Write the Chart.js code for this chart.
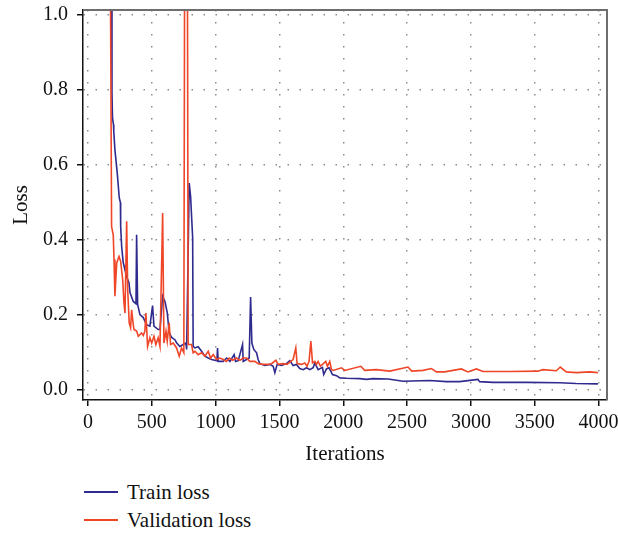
<!DOCTYPE html>
<html>
<head>
<meta charset="utf-8">
<script src="https://cdn.jsdelivr.net/npm/chart.js@4/dist/chart.umd.min.js"></script>
<style>
  html, body { margin: 0; padding: 0; background: #fff; }
  #wrap { position: relative; width: 618px; height: 537px; }
  #lossChart { position: absolute; left: 0; top: 0; }
  .legend { position: absolute; left: 84px; top: 478px; font-family: "Liberation Serif", serif; font-size: 21px; color: #111; }
  .legend-row { display: flex; align-items: center; height: 28px; }
  .legend-line { width: 34px; height: 0; border-top: 2px solid; margin-right: 9px; }
</style>
</head>
<body>
<div id="wrap">
  <canvas id="lossChart" width="618" height="470"></canvas>
  <div class="legend" id="legend"></div>
</div>
<script>
// Values (iteration, loss)
const trainIter = [182, 188, 192, 200, 202, 211, 229, 245, 254, 256, 264, 276, 303, 321, 329, 355, 376, 381, 389,
  407, 433, 459, 485, 506, 517, 550, 564, 585, 603, 621, 636, 655, 681, 694, 720, 746, 767, 773, 793, 804, 820,
  824, 838, 863, 890, 916, 942, 968, 1010, 1015, 1020, 1059, 1086, 1112, 1145, 1156, 1177, 1211, 1216, 1242,
  1263, 1274, 1284, 1299, 1321, 1333, 1346, 1386, 1425, 1451, 1464, 1482, 1516, 1555, 1581, 1607, 1633, 1659,
  1686, 1712, 1738, 1764, 1777, 1803, 1837, 1847, 1868, 1889, 1902, 1915, 1947, 1973, 2025, 2129, 2182, 2233,
  2351, 2468, 2677, 2808, 2912, 3055, 3068, 3173, 3434, 3695, 3825, 3995];
const trainLoss = [1.6, 0.792, 0.725, 0.707, 0.69, 0.64, 0.579, 0.512, 0.499, 0.435, 0.381, 0.339, 0.301, 0.285,
  0.259, 0.235, 0.229, 0.413, 0.227, 0.2, 0.192, 0.173, 0.169, 0.224, 0.169, 0.16, 0.16, 0.249, 0.235, 0.205,
  0.152, 0.139, 0.133, 0.125, 0.115, 0.12, 0.124, 0.107, 0.551, 0.515, 0.405, 0.115, 0.111, 0.114, 0.102, 0.089,
  0.084, 0.08, 0.077, 0.111, 0.075, 0.075, 0.084, 0.075, 0.093, 0.075, 0.077, 0.12, 0.075, 0.08, 0.084, 0.247,
  0.124, 0.107, 0.098, 0.08, 0.069, 0.064, 0.067, 0.062, 0.045, 0.067, 0.064, 0.069, 0.077, 0.064, 0.067, 0.056,
  0.053, 0.058, 0.053, 0.058, 0.071, 0.053, 0.059, 0.04, 0.055, 0.058, 0.049, 0.04, 0.037, 0.031, 0.03, 0.029,
  0.027, 0.029, 0.028, 0.022, 0.024, 0.021, 0.021, 0.027, 0.021, 0.019, 0.019, 0.018, 0.016, 0.015];

const valIter = [170, 185, 198, 204, 211, 225, 243, 256, 272, 282, 290, 303, 311, 323, 334, 342, 350, 360, 381,
  394, 420, 433, 446, 454, 467, 485, 499, 517, 532, 550, 564, 585, 595, 611, 621, 636, 647, 668, 694, 715, 733,
  751, 768, 785, 811, 824, 838, 863, 890, 916, 942, 960, 981, 1007, 1033, 1059, 1086, 1106, 1133, 1164, 1190,
  1216, 1242, 1268, 1307, 1333, 1372, 1411, 1438, 1472, 1490, 1529, 1560, 1581, 1607, 1628, 1638, 1673, 1699,
  1716, 1732, 1746, 1759, 1777, 1790, 1803, 1821, 1837, 1863, 1876, 1894, 1908, 1920, 1986, 2012, 2137, 2168,
  2260, 2364, 2507, 2536, 2625, 2690, 2730, 2794, 2925, 2977, 3043, 3094, 3303, 3525, 3564, 3669, 3700, 3747,
  3825, 3930, 3995];
const valLoss = [1.5, 0.435, 0.413, 0.347, 0.249, 0.338, 0.355, 0.342, 0.293, 0.231, 0.204, 0.449, 0.267, 0.178,
  0.165, 0.213, 0.187, 0.16, 0.156, 0.142, 0.151, 0.144, 0.156, 0.204, 0.115, 0.138, 0.124, 0.142, 0.12, 0.138,
  0.115, 0.471, 0.124, 0.156, 0.129, 0.178, 0.12, 0.124, 0.111, 0.089, 0.111, 0.098, 3.0, 0.12, 0.12, 0.098,
  0.102, 0.093, 0.098, 0.089, 0.102, 0.084, 0.093, 0.08, 0.084, 0.08, 0.075, 0.084, 0.078, 0.084, 0.078, 0.084,
  0.084, 0.075, 0.075, 0.069, 0.067, 0.067, 0.069, 0.078, 0.067, 0.069, 0.067, 0.073, 0.08, 0.111, 0.069, 0.067,
  0.071, 0.062, 0.075, 0.129, 0.071, 0.075, 0.067, 0.075, 0.062, 0.067, 0.075, 0.062, 0.075, 0.053, 0.051, 0.058,
  0.051, 0.062, 0.051, 0.053, 0.049, 0.06, 0.049, 0.051, 0.056, 0.047, 0.047, 0.055, 0.047, 0.055, 0.048, 0.048,
  0.049, 0.053, 0.05, 0.06, 0.047, 0.045, 0.047, 0.045];

const xTickValues = [0, 500, 1000, 1500, 2000, 2500, 3000, 3500, 4000];
const yTickValues = [0, 0.2, 0.4, 0.6, 0.8, 1.0];

const seriesNames = ['Train loss', 'Validation loss'];
const trainColor = '#2e2a8e';
const valColor = '#ef4628';

const serif = '"Liberation Serif", "Times New Roman", serif';

function toPoints(xs, ys) {
  return xs.map((x, i) => ({ x: x, y: ys[i] }));
}

// grey frame on top and right side of the plot
const frameBox = {
  id: 'frameBox',
  afterDraw(chart) {
    const { ctx, chartArea: a } = chart;
    ctx.save();
    ctx.strokeStyle = '#6e6e6e';
    ctx.lineWidth = 2;
    ctx.beginPath();
    ctx.moveTo(a.left, a.top);
    ctx.lineTo(a.right, a.top);
    ctx.lineTo(a.right, a.bottom);
    ctx.stroke();
    ctx.restore();
  }
};

const gridStyle = {
  color: '#8c8c8c',
  lineWidth: 1.5,
  tickColor: '#111',
  tickLength: 6,
  tickWidth: 1.5,
  tickBorderDash: []
};

new Chart(document.getElementById('lossChart').getContext('2d'), {
  type: 'line',
  data: {
    datasets: [
      {
        label: seriesNames[0],
        data: toPoints(trainIter, trainLoss),
        borderColor: trainColor,
        borderWidth: 1.6,
        pointRadius: 0,
        tension: 0,
        order: 2
      },
      {
        label: seriesNames[1],
        data: toPoints(valIter, valLoss),
        borderColor: valColor,
        borderWidth: 1.6,
        pointRadius: 0,
        tension: 0,
        order: 1
      }
    ]
  },
  options: {
    responsive: false,
    animation: false,
    devicePixelRatio: 1,
    layout: { padding: { top: 10, right: 11, left: 0, bottom: 0 } },
    plugins: {
      legend: { display: false },
      tooltip: { enabled: false }
    },
    scales: {
      x: {
        type: 'linear',
        min: -39,
        max: 4066,
        afterBuildTicks: s => { s.ticks = xTickValues.map(v => ({ value: v })); },
        afterFit: s => { s.height = 70; s.paddingLeft = 0; s.paddingRight = 0; },
        grid: gridStyle,
        border: { color: '#111', width: 1.5, dash: [1.5, 10.5] },
        ticks: {
          color: '#111',
          padding: 5,
          maxRotation: 0,
          autoSkip: false,
          callback: v => String(v),
          font: { family: serif, size: 20 }
        },
        title: {
          display: true,
          text: 'Iterations',
          color: '#111',
          padding: { top: 0, bottom: 3 },
          font: { family: serif, size: 21 }
        }
      },
      y: {
        type: 'linear',
        min: -0.028,
        max: 1.013,
        afterBuildTicks: s => { s.ticks = yTickValues.map(v => ({ value: v })); },
        afterFit: s => { s.width = 83; s.paddingTop = 0; s.paddingBottom = 0; },
        grid: gridStyle,
        border: { color: '#111', width: 1.5, dash: [1.5, 10.5] },
        ticks: {
          color: '#111',
          padding: 9,
          callback: v => v.toFixed(1),
          font: { family: serif, size: 20 }
        },
        title: {
          display: true,
          text: 'Loss',
          color: '#111',
          padding: { top: 9, bottom: 0 },
          font: { family: serif, size: 21 }
        }
      }
    }
  },
  plugins: [frameBox]
});

// legend below the plot, one row per series
const legendBox = document.getElementById('legend');
[[seriesNames[0], trainColor], [seriesNames[1], valColor]].forEach(([name, color]) => {
  const row = document.createElement('div');
  row.className = 'legend-row';
  const line = document.createElement('span');
  line.className = 'legend-line';
  line.style.borderTopColor = color;
  const label = document.createElement('span');
  label.textContent = name;
  row.appendChild(line);
  row.appendChild(label);
  legendBox.appendChild(row);
});
</script>
</body>
</html>
